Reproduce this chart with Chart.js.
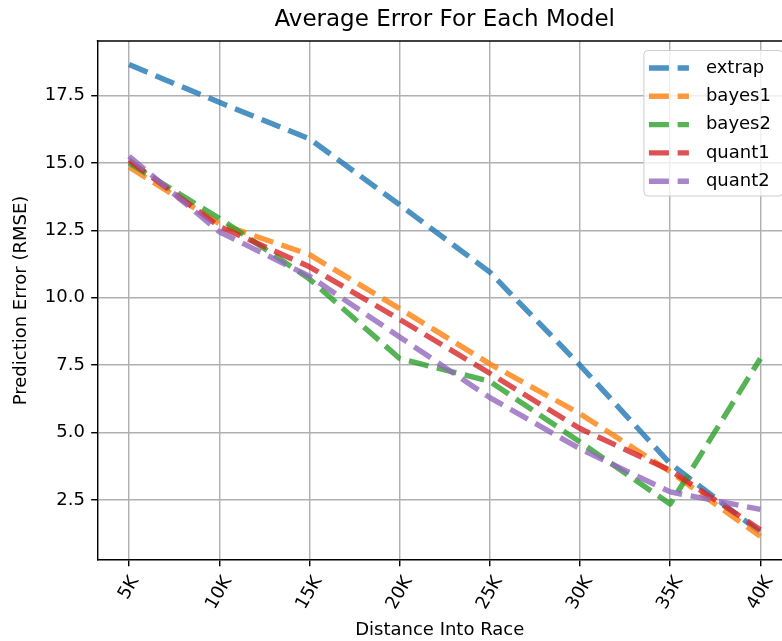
<!DOCTYPE html>
<html><head><meta charset="utf-8">
<script src="https://cdn.jsdelivr.net/npm/chart.js@4.4.0/dist/chart.umd.min.js"></script>
<style>html,body{margin:0;padding:0;background:#fff;overflow:hidden}canvas{display:block}</style>
</head><body>
<canvas id="c" width="782" height="641"></canvas>
<script>
const categories = ["5K","10K","15K","20K","25K","30K","35K","40K"];
const seriesNames = ["extrap","bayes1","bayes2","quant1","quant2"];
const extrap = [18.65, 17.25, 15.9, 13.45, 10.95, 7.5, 3.85, 1.3];
const bayes1 = [14.85, 12.75, 11.6, 9.6, 7.55, 5.7, 3.55, 1.15];
const bayes2 = [15.0, 12.95, 10.7, 7.75, 6.9, 4.65, 2.35, 7.75];
const quant1 = [15.1, 12.65, 11.15, 9.2, 7.2, 5.15, 3.6, 1.4];
const quant2 = [15.25, 12.45, 10.8, 8.55, 6.3, 4.4, 2.8, 2.15];
const yTickValues = [2.5, 5, 7.5, 10, 12.5, 15, 17.5];
const yTickLabels = ["2.5","5.0","7.5","10.0","12.5","15.0","17.5"];
const chartTitle = "Average Error For Each Model";
const xTitle = "Distance Into Race";
const yTitle = "Prediction Error (RMSE)";
const colors = ["rgba(31,119,180,0.8)","rgba(255,127,14,0.8)","rgba(44,160,44,0.8)","rgba(214,39,40,0.8)","rgba(148,103,189,0.8)"];

const allSeries = [extrap, bayes1, bayes2, quant1, quant2];
const flat = allSeries.flat();
const lo = Math.min(...flat), hi = Math.max(...flat), mg = (hi - lo) * 0.05;
const FONT = "'DejaVu Sans', sans-serif";
const LW = 5.4, DASH = [20, 8.7];

const datasets = allSeries.map((s, k) => ({
  label: seriesNames[k],
  data: s.map((v, i) => ({x: i, y: v})),
  borderColor: colors[k],
  backgroundColor: colors[k],
  borderWidth: LW,
  borderDash: DASH,
  borderCapStyle: 'butt',
  borderJoinStyle: 'round',
  pointRadius: 0,
  tension: 0,
  fill: false,
  order: allSeries.length - k
}));

const overlay = {
  id: 'overlay',
  afterDraw(chart) {
    const ctx = chart.ctx, ca = chart.chartArea, xs = chart.scales.x;
    const axesRight = xs.getPixelForValue(categories.length - 1 + 0.35);
    ctx.save();
    // top spine
    ctx.strokeStyle = '#000'; ctx.lineWidth = 1.44;
    ctx.beginPath(); ctx.moveTo(ca.left - 0.7, ca.top); ctx.lineTo(ca.right, ca.top); ctx.stroke();
    // title
    ctx.fillStyle = '#000';
    ctx.font = "23px " + FONT;
    ctx.textAlign = 'center'; ctx.textBaseline = 'alphabetic';
    ctx.fillText(chartTitle, (ca.left + axesRight) / 2, 26);
    // x tick labels rotated 60deg, bbox centered under tick
    ctx.font = "18px " + FONT;
    const ang = Math.PI / 3, th = 18 * 1.164;
    categories.forEach((c, i) => {
      const x = xs.getPixelForValue(i);
      const w = ctx.measureText(c).width;
      const H = w * Math.sin(ang) + th * Math.cos(ang);
      const topY = ca.bottom + 6.3 + 6.3;
      ctx.save();
      ctx.translate(x, topY + H / 2);
      ctx.rotate(-ang);
      ctx.textAlign = 'center'; ctx.textBaseline = 'middle';
      ctx.fillText(c, 0, 0);
      ctx.restore();
    });
    // legend
    const right = axesRight - 9, top = ca.top + 9.5;
    const lw = 139, lh = 145.5, left = right - lw;
    ctx.beginPath();
    ctx.roundRect(left, top, lw, lh, 4);
    ctx.fillStyle = 'rgba(255,255,255,0.8)'; ctx.fill();
    ctx.strokeStyle = '#cccccc'; ctx.lineWidth = 1; ctx.stroke();
    seriesNames.forEach((n, k) => {
      const cy = top + 17.5 + k * 28.3;
      ctx.beginPath();
      ctx.setLineDash(DASH);
      ctx.lineCap = 'butt';
      ctx.strokeStyle = colors[k]; ctx.lineWidth = LW;
      ctx.moveTo(left + 5, cy); ctx.lineTo(left + 45, cy); ctx.stroke();
      ctx.setLineDash([]);
      ctx.fillStyle = '#000';
      ctx.textAlign = 'left'; ctx.textBaseline = 'middle';
      ctx.fillText(n, left + 62, cy);
    });
    ctx.restore();
  }
};

new Chart(document.getElementById('c'), {
  type: 'line',
  data: { datasets },
  options: {
    responsive: false, animation: false, devicePixelRatio: 1,
    layout: { padding: { top: 41, right: 0, bottom: 0, left: 0 } },
    plugins: { legend: { display: false }, tooltip: { enabled: false }, title: { display: false } },
    scales: {
      x: {
        type: 'linear', min: -0.35, max: 7.24,
        afterBuildTicks: s => { s.ticks = categories.map((c, i) => ({ value: i })); },
        afterFit: s => { s.height = 81; },
        ticks: { display: false },
        grid: { color: '#b0b0b0', lineWidth: 1.44, tickColor: '#000', tickLength: 6.3, tickWidth: 1.44 },
        border: { color: '#000', width: 1.44 },
        title: { display: true, text: xTitle, color: '#000', font: { family: FONT, size: 18 }, padding: { top: 0, bottom: 0 } }
      },
      y: {
        type: 'linear', min: lo - mg, max: hi + mg,
        afterBuildTicks: s => { s.ticks = yTickValues.map(v => ({ value: v })); },
        afterFit: s => { s.width = 97.5; },
        ticks: { color: '#000', font: { family: FONT, size: 18 }, padding: 6.3, callback: (v, i) => yTickLabels[i] },
        grid: { color: '#b0b0b0', lineWidth: 1.44, tickColor: '#000', tickLength: 6.3, tickWidth: 1.44 },
        border: { color: '#000', width: 1.44 },
        title: { display: true, text: yTitle, color: '#000', font: { family: FONT, size: 18 }, padding: { top: 11, bottom: 0 } }
      }
    }
  },
  plugins: [overlay]
});
</script>
</body></html>
